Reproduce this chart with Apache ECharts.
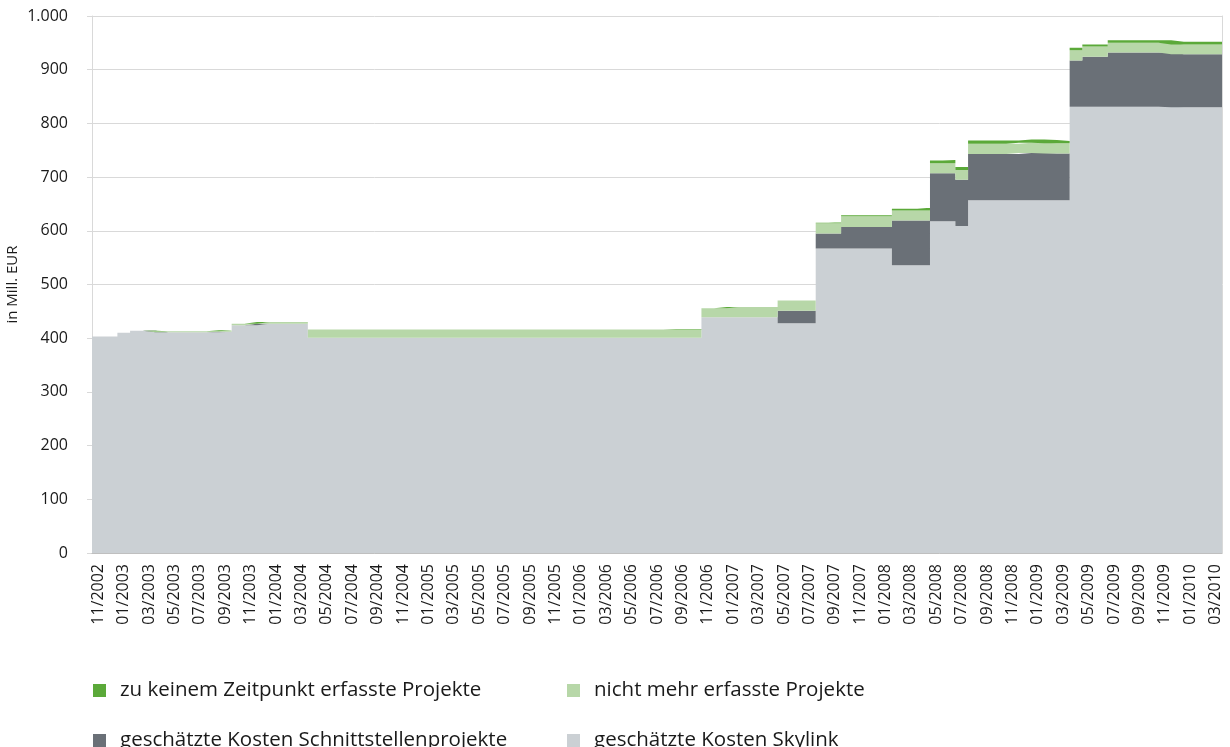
<!DOCTYPE html>
<html>
<head>
<meta charset="utf-8">
<script src="https://cdn.jsdelivr.net/npm/echarts@6/dist/echarts.min.js"></script>
<style>
html,body{margin:0;padding:0;background:#fff;}
#chart{width:1230px;height:747px;}
</style>
</head>
<body>
<div id="chart"></div>
<script>
// Monthly categories 11/2002 .. 03/2010
const months = (function(){
  const out = [];
  let m = 11, y = 2002;
  while (!(y === 2010 && m === 4)) {
    out.push((m < 10 ? '0' + m : '' + m) + '/' + y);
    m++; if (m > 12) { m = 1; y++; }
  }
  return out;
})();

// Values in Mill. EUR, one per month (index 0 = 11/2002)
const skylink = [
  403,403,410,414,414,411,411,411,411,411,412,424,424,427,427,427,427,
  401,401,401,401,401,401,401,401,401,401,401,401,401,401,401,401,401,401,401,401,401,401,401,401,401,401,401,401,
  401,401,401,
  439,439,439,439,439,439,
  428,428,428,
  567,567,567,567,567,567,
  536,536,536,
  618,618,609,
  657,657,657,657,657,657,657,657,
  831,831,831,831,831,831,831,831,
  830,830,830,830
];
const schnittstellen = [
  0,0,0,0,0,0,0,0,0,0,0,0,0,0,0,0,0,
  0,0,0,0,0,0,0,0,0,0,0,0,0,0,0,0,0,0,0,0,0,0,0,0,0,0,0,0,
  0,0,0,
  0,0,0,0,0,0,
  23,23,23,
  28,28,40,40,40,40,
  83,83,83,
  89,89,86,
  86,86,86,86,88,88,87,87,
  86,93,93,101,101,101,101,101,
  99,99,99,99
];
const nichtMehr = [
  0,0,0,0,0,2,2,2,2,2,3,3,3,3,3,3,3,
  15,15,15,15,15,15,15,15,15,15,15,15,15,15,15,15,15,15,15,15,15,15,15,15,15,15,15,15,
  15,15,15,
  17,17,19,19,19,19,
  19,19,19,
  19,19,20,20,20,20,
  19,19,19,
  19,19,18,
  19,19,19,19,19,19,19,19,
  19,19,19,18,18,18,18,18,
  18,18,18,18
];
const zuKeinem = [
  0,0,0,0,0,0,0,0,0,0,0,0,0,0,0,0,0,
  0,0,0,0,0,0,0,0,0,0,0,0,0,0,0,0,0,0,0,0,0,0,0,0,0,0,0,0,
  1,1,1,
  0,0,0,0,0,0,
  0,0,0,
  1,2,2,2,2,2,
  3,3,5,
  5,6,6,
  6,6,6,6,6,6,6,4,
  5,4,4,5,5,5,5,5,
  5,5,5,5
];
const seriesNames = [
  'zu keinem Zeitpunkt erfasste Projekte',
  'nicht mehr erfasste Projekte',
  'geschätzte Kosten Schnittstellenprojekte',
  'geschätzte Kosten Skylink'
];
const colors = {
  sky: '#CBD0D4',
  schnitt: '#6A7077',
  nicht: '#B7D7A8',
  keinem: '#5BA939'
};

// step positions: one extra boundary point so the last month gets its full width
const stepCats = months.concat(['04/2010']);
function stepData(arr){ return arr.concat([arr[arr.length-1]]); }

const FONT = '"Open Sans", "Noto Sans", sans-serif';

function stepSeries(name, arr, color, z){
  return {
    name: name,
    type: 'line',
    xAxisIndex: 1,
    stack: 'total',
    step: 'end',
    showSymbol: false,
    symbol: 'none',
    data: stepData(arr),
    lineStyle: { width: 0, color: color },
    itemStyle: { color: color },
    areaStyle: { color: color, opacity: 1 },
    z: z,
    silent: true
  };
}

function legendAt(name, left, top){
  return {
    data: [name],
    left: left, top: top,
    icon: 'rect',
    itemWidth: 13, itemHeight: 13,
    selectedMode: false,
    textStyle: { fontFamily: FONT, fontSize: 20.5, color: '#1a1a1a', padding: [0,0,0,9] }
  };
}

const chart = echarts.init(document.getElementById('chart'));
chart.setOption({
  backgroundColor: '#fff',
  animation: false,
  grid: { left: 92, right: 8, top: 16, bottom: 194, containLabel: false, outerBoundsMode: 'none' },
  legend: [
    legendAt(seriesNames[0], 88, 675),
    legendAt(seriesNames[1], 562, 675),
    legendAt(seriesNames[2], 88, 725),
    legendAt(seriesNames[3], 562, 725)
  ],
  xAxis: [
    {
      type: 'category',
      data: months,
      boundaryGap: true,
      axisLine: { lineStyle: { color: '#BFBFBF' } },
      axisTick: { interval: 1, length: 5, lineStyle: { color: '#BFBFBF' } },
      axisLabel: { interval: 1, rotate: 90, margin: 11, fontFamily: FONT, fontSize: 16, color: '#1a1a1a' },
      splitLine: { show: false },
      z: 10
    },
    {
      type: 'category',
      data: stepCats,
      boundaryGap: false,
      show: false
    }
  ],
  yAxis: [
    {
      type: 'value',
      min: 0, max: 1000, interval: 100,
      name: 'in Mill. EUR',
      nameLocation: 'middle',
      nameGap: 72,
      nameMoveOverlap: false,
      nameRotate: 90,
      nameTextStyle: { fontFamily: FONT, fontSize: 15, color: '#1a1a1a' },
      axisLine: { show: true, lineStyle: { color: '#D9D9D9' } },
      axisTick: { show: true, length: 5, lineStyle: { color: '#D9D9D9' } },
      axisLabel: {
        margin: 24, fontFamily: FONT, fontSize: 16, color: '#1a1a1a',
        formatter: function(v){ return v >= 1000 ? Math.floor(v/1000) + '.' + String(v % 1000).padStart(3,'0') : String(v); }
      },
      splitLine: { lineStyle: { color: '#D9D9D9', width: 1 } }
    },
    {
      type: 'value',
      position: 'right',
      min: 0, max: 1000, interval: 100,
      axisLine: { show: true, lineStyle: { color: '#D9D9D9' } },
      axisTick: { show: false },
      axisLabel: { show: false },
      splitLine: { show: false }
    }
  ],
  series: [
    stepSeries(seriesNames[3], skylink, colors.sky, 2),
    stepSeries(seriesNames[2], schnittstellen, colors.schnitt, 3),
    stepSeries(seriesNames[1], nichtMehr, colors.nicht, 4),
    stepSeries(seriesNames[0], zuKeinem, colors.keinem, 5)
  ]
});
</script>
</body>
</html>
